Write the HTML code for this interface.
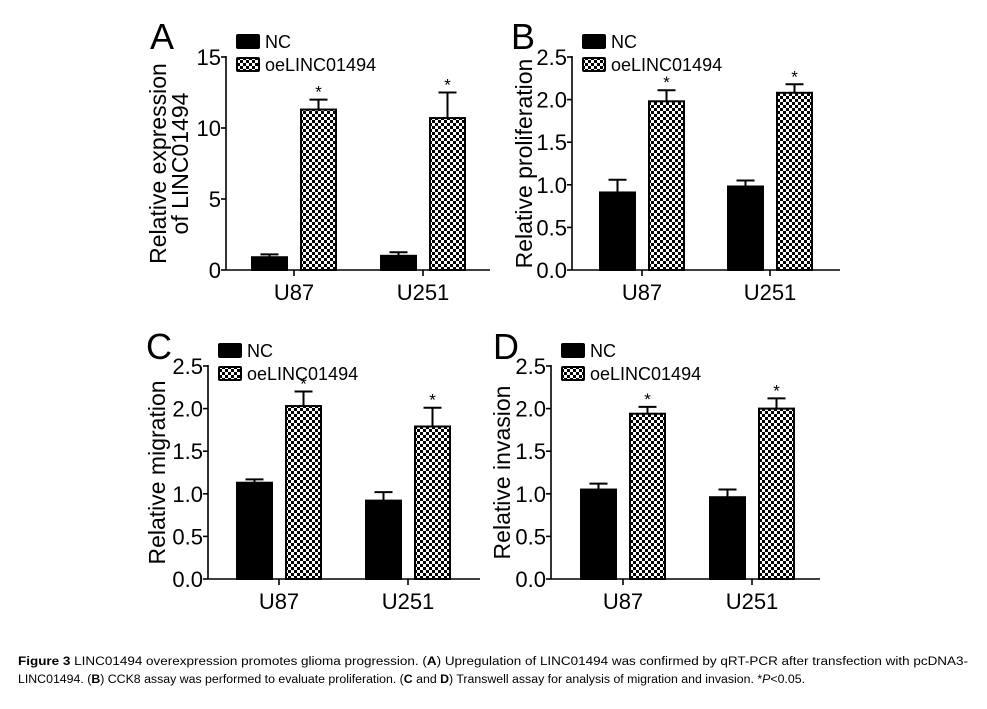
<!DOCTYPE html>
<html><head><meta charset="utf-8"><style>
html,body{margin:0;padding:0;background:#fff;}
svg{display:block;font-family:"Liberation Sans",Arial,sans-serif;}
</style></head><body>
<svg id="fig" width="987" height="709" viewBox="0 0 987 709">
<defs>
<pattern id="chk" width="6" height="6" patternUnits="userSpaceOnUse">
<rect width="6" height="6" fill="#fff"/><rect width="3" height="3" fill="#000"/><rect x="3" y="3" width="3" height="3" fill="#000"/>
</pattern>
</defs>
<g id="panels"></g>
<text x="18" y="665" font-size="11.5" textLength="950" lengthAdjust="spacingAndGlyphs"><tspan font-weight="bold">Figure 3</tspan> LINC01494 overexpression promotes glioma progression. (<tspan font-weight="bold">A</tspan>) Upregulation of LINC01494 was confirmed by qRT-PCR after transfection with pcDNA3-</text>
<text x="18" y="683" font-size="11.5" textLength="787" lengthAdjust="spacingAndGlyphs">LINC01494. (<tspan font-weight="bold">B</tspan>) CCK8 assay was performed to evaluate proliferation. (<tspan font-weight="bold">C</tspan> and <tspan font-weight="bold">D</tspan>) Transwell assay for analysis of migration and invasion. *<tspan font-style="italic">P</tspan>&lt;0.05.</text>
</svg>
<script>
const categories = ["U87", "U251"];
const seriesNames = ["NC", "oeLINC01494"];
const ncA = [0.9, 1.0], ncErrA = [0.2, 0.25], oeA = [11.3, 10.7], oeErrA = [0.7, 1.8];
const ncB = [0.91, 0.98], ncErrB = [0.15, 0.07], oeB = [1.98, 2.08], oeErrB = [0.13, 0.1];
const ncC = [1.13, 0.92], ncErrC = [0.04, 0.1], oeC = [2.03, 1.79], oeErrC = [0.17, 0.22];
const ncD = [1.05, 0.96], ncErrD = [0.07, 0.09], oeD = [1.94, 2.0], oeErrD = [0.08, 0.12];
const ticksA = ["0", "5", "10", "15"], ticksA_v = [0, 5, 10, 15];
const ticksB = ["0.0", "0.5", "1.0", "1.5", "2.0", "2.5"], ticksB_v = [0, 0.5, 1, 1.5, 2, 2.5];

const NS = "http://www.w3.org/2000/svg";
const root = document.getElementById("panels");
function el(tag, attrs, parent, txt) {
  const e = document.createElementNS(NS, tag);
  for (const k in attrs) e.setAttribute(k, attrs[k]);
  if (txt !== undefined) e.textContent = txt;
  (parent || root).appendChild(e);
  return e;
}
const panels = [
  {id:"a", letter:"A", lx:150, ly:49, ax:226, y0:270, y1:57, xEnd:490, max:15, centers:[294,423], title:["Relative expression","of LINC01494"], tx:[158,180], tl:ticksA, tv:ticksA_v, nc:ncA, ncE:ncErrA, oe:oeA, oeE:oeErrA},
  {id:"b", letter:"B", lx:511, ly:49, ax:572, y0:270, y1:57, xEnd:840, max:2.5, centers:[642,770], title:["Relative proliferation"], tx:[524], tl:ticksB, tv:ticksB_v, nc:ncB, ncE:ncErrB, oe:oeB, oeE:oeErrB},
  {id:"c", letter:"C", lx:146, ly:359, ax:208, y0:579, y1:366, xEnd:480, max:2.5, centers:[279,408], title:["Relative migration"], tx:[157], tl:ticksB, tv:ticksB_v, nc:ncC, ncE:ncErrC, oe:oeC, oeE:oeErrC},
  {id:"d", letter:"D", lx:493, ly:359, ax:551, y0:579, y1:366, xEnd:820, max:2.5, centers:[623,752], title:["Relative invasion"], tx:[502], tl:ticksB, tv:ticksB_v, nc:ncD, ncE:ncErrD, oe:oeD, oeE:oeErrD}
];
panels.forEach(p => {
  const g = el("g", {});
  
  
  const ys = v => p.y0 - (v / p.max) * (p.y0 - p.y1);
  const L = el("text", {x:p.lx, y:p.ly, "font-size":36}, g, p.letter);
  
  
  const ya = el("line", {x1:p.ax, y1:p.y1 - 1, x2:p.ax, y2:p.y0, stroke:"#000", "stroke-width":1.6}, g);
  
  
  const xa = el("line", {x1:p.ax, y1:p.y0, x2:p.xEnd, y2:p.y0, stroke:"#000", "stroke-width":1.6}, g);
  
  
  p.tv.forEach((v, i) => {
    const y = ys(v);
    el("line", {x1:p.ax - 5, y1:y, x2:p.ax, y2:y, stroke:"#000", "stroke-width":1.6}, g);
    const t = el("text", {x:p.ax - 5, y:y + 8, "font-size":22, "text-anchor":"end"}, g, p.tl[i]);
    
    
  });
  p.title.forEach((s, i) => {
    const cy = (p.y0 + p.y1) / 2;
    const t = el("text", {x:p.tx[i], y:cy, "font-size":23, "text-anchor":"middle", transform:`rotate(-90 ${p.tx[i]} ${cy})`, dy:8}, g, s);
    
    
  });
  categories.forEach((c, i) => {
    const cx = p.centers[i];
    el("line", {x1:cx, y1:p.y0, x2:cx, y2:p.y0 + 6, stroke:"#000", "stroke-width":1.6}, g);
    const xl = el("text", {x:cx, y:p.y0 + 30, "font-size":22, "text-anchor":"middle"}, g, c);
    
    
    [[p.nc, p.ncE, -42, "#000", "nc"], [p.oe, p.oeE, 7, "url(#chk)", "oe"]].forEach(([vals, errs, off, fill, key]) => {
      const top = ys(vals[i]), et = ys(vals[i] + errs[i]);
      const bx = cx + off, mid = bx + 17.5;
      const eb = el("g", {}, g);
      
      
      el("line", {x1:mid, y1:top, x2:mid, y2:et, stroke:"#000", "stroke-width":2}, eb);
      el("line", {x1:mid - 9, y1:et, x2:mid + 9, y2:et, stroke:"#000", "stroke-width":2}, eb);
      const r = el("rect", {x:bx, y:top, width:35, height:p.y0 - top, fill:fill, stroke:"#000", "stroke-width":2}, g);
      
      
      if (key === "oe") {
        const s = el("text", {x:mid, y:et - 2, "font-size":17, "text-anchor":"middle"}, g, "*");
        
        
      }
    });
  });
  const lg = el("g", {}, g);
  
  
  const lyb = p.y1 - 22;
  [["#000", seriesNames[0], lyb], ["url(#chk)", seriesNames[1], lyb + 23]].forEach(([f, n, y], k) => {
    const e = el("g", {}, lg);
    
    
    el("rect", {x:p.ax + 11, y:y, width:22, height:13, fill:f, stroke:"#000", "stroke-width":2, rx:1}, e);
    el("text", {x:p.ax + 39, y:y + 13, "font-size":18}, e, n);
  });
});
</script>
</body></html>
